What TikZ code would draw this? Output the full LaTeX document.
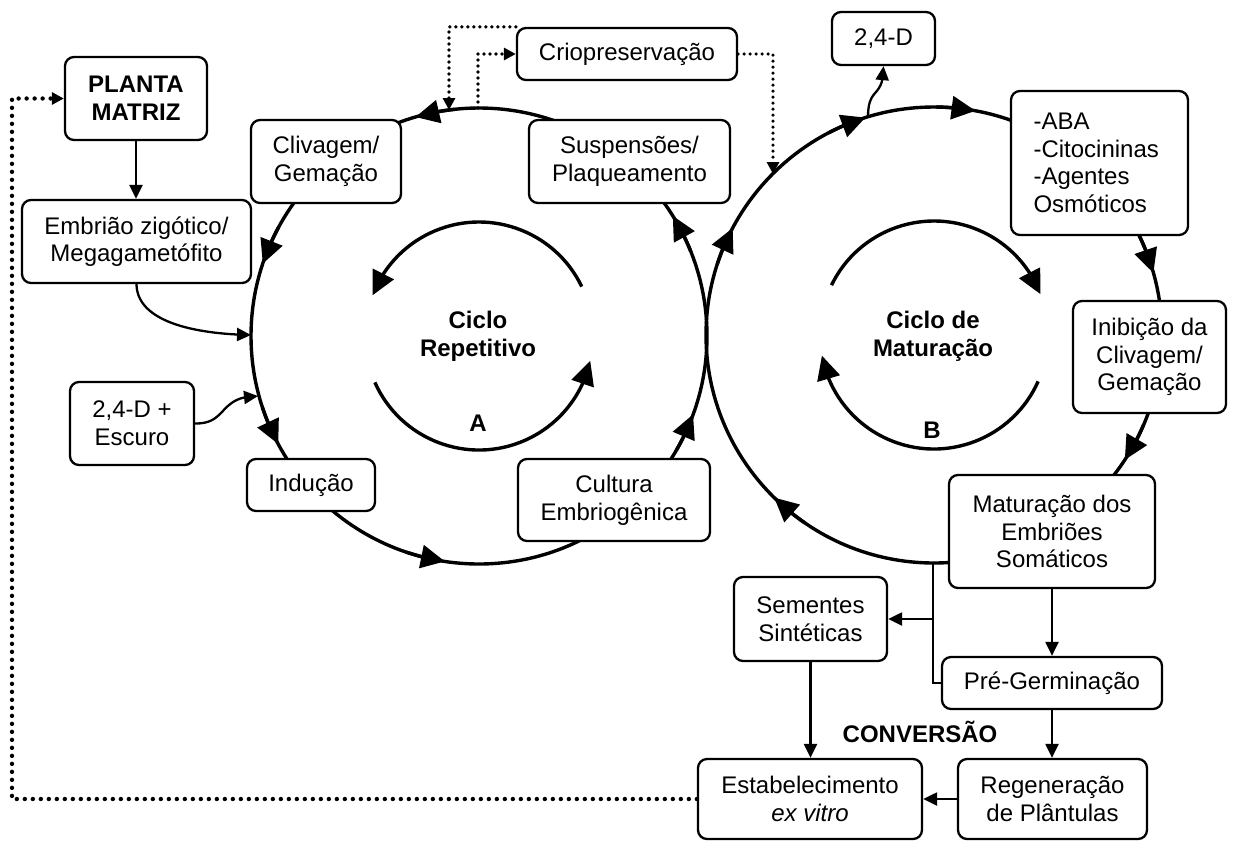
\documentclass[tikz,border=0pt]{standalone}
\usepackage{fontspec}
\setmainfont{Liberation Sans}
\usetikzlibrary{arrows.meta,calc,bending}
\begin{document}
\begin{tikzpicture}[x=0.5pt,y=0.5pt,
  box/.style={draw, line width=1.15pt, rounded corners=4.5pt, fill=white, align=center, inner sep=0pt, font=\fontsize{12}{13.8}\selectfont},
  circ/.style={line width=1.7pt},
  big/.style={circ, -{Triangle[length=12pt,width=11.5pt]}},
  conn/.style={line width=1.15pt, -{Triangle[length=7pt,width=6.5pt]}},
  dotl/.style={line width=2.2pt, line cap=round, dash pattern=on 0pt off 4pt, -{Triangle[length=6pt,width=6pt]}},
  dotc/.style={line width=1.8pt, line cap=round, dash pattern=on 0pt off 3pt, -{Triangle[length=6pt,width=6pt]}},
  lbl/.style={font=\bfseries\fontsize{12}{13.8}\selectfont, align=center}
]
\useasboundingbox (0,0) rectangle (1234,-841);
\fill[white] (0,0) rectangle (1234,-841);
\coordinate (cA) at (479,-336);
\coordinate (cB) at (934,-335);
\draw[circ] (cA) circle[radius=114pt];
\draw[circ] (cB) circle[radius=114pt];

% boxes
\node[box, minimum width=71pt, minimum height=41.5pt, font=\bfseries\fontsize{12}{13.8}\selectfont] (planta) at (136,-98.5) {PLANTA\\MATRIZ};
\node[box, minimum width=114.5pt, minimum height=41.5pt] (emb) at (136.5,-241.5) {Embrião zigótico/\\Megagametófito};
\node[box, minimum width=75pt, minimum height=41.5pt] (cliv) at (326,-161.5) {Clivagem/\\Gemação};
\node[box, minimum width=110pt, minimum height=26pt] (cryo) at (627,-54) {Criopreservação};
\node[box, minimum width=100.5pt, minimum height=41.5pt] (susp) at (629.5,-161.5) {Suspensões/\\Plaqueamento};
\node[box, minimum width=51.5pt, minimum height=26.5pt] (d24) at (883.5,-38.5) {2,4-D};
\node[box, minimum width=88.5pt, minimum height=72pt, align=left, text width=66pt] (aba) at (1099.5,-163) {-ABA\\-Citocininas\\-Agentes\\Osmóticos};
\node[box, minimum width=76.5pt, minimum height=56pt] (inib) at (1149.5,-357) {Inibição da\\Clivagem/\\Gemação};
\node[box, minimum width=64pt, minimum height=26pt] (ind) at (311,-485) {Indução};
\node[box, minimum width=62pt, minimum height=41.5pt] (esc) at (132,-423.5) {2,4-D +\\Escuro};
\node[box, minimum width=96pt, minimum height=41pt] (cult) at (614,-500) {Cultura\\Embriogênica};
\node[box, minimum width=103pt, minimum height=56.5pt] (mat) at (1052,-531.5) {Maturação dos\\Embriões\\Somáticos};
\node[box, minimum width=76.5pt, minimum height=42pt] (sem) at (810.5,-619) {Sementes\\Sintéticas};
\node[box, minimum width=110pt, minimum height=26pt] (pre) at (1052,-683) {Pré-Germinação};
\node[box, minimum width=112pt, minimum height=40pt] (est) at (810,-799) {Estabelecimento\\\textit{ex vitro}};
\node[box, minimum width=94.5pt, minimum height=40pt] (reg) at (1052.5,-799) {Regeneração\\de Plântulas};

% labels
\node[lbl] (cr) at (478,-336) {Ciclo\\Repetitivo};
\node[lbl] (la) at (478,-423) {A};
\node[lbl] (cm) at (933,-336) {Ciclo de\\Maturação};
\node[lbl] (lb) at (932,-430) {B};
\node[lbl] (conv) at (920,-732) {CONVERSÃO};

% arrowheads on outer circles
\foreach \t in {31.8,106.2,161.5,208.3,261.4,339.9}
  \draw[big] ($(cA)+({\t-10}:114pt)$) arc[start angle=\t-10, end angle=\t, radius=114pt];
\foreach \t in {225.5,152,107.5,79.5,15.8,-33.2}
  \draw[big] ($(cB)+({\t+10}:114pt)$) arc[start angle=\t+10, end angle=\t, radius=114pt];

% inner arcs
\draw[big] ($(cA)+(25.7:57pt)$) arc[start angle=25.7, end angle=159.1, radius=57pt];
\draw[big] ($(cA)+(204:57pt)$) arc[start angle=204, end angle=347.4, radius=57pt];
\draw[big] ($(cB)+(154.1:57pt)$) arc[start angle=154.1, end angle=21, radius=57pt];
\draw[big] ($(cB)+(336:57pt)$) arc[start angle=336, end angle=190.4, radius=57pt];

% connectors
\coordinate (eA) at (251,-335);
\coordinate (eE) at (258,-396);
\coordinate (sB) at (868,-117);
\coordinate (br) at (933,-563);
\draw[conn] (planta.south) -- (planta.south |- emb.north);
\draw[conn] (emb.south) .. controls (137,-322) and (195,-334) .. (eA);
\draw[conn] (esc.east) .. controls (228,-424) and (218,-396) .. (eE);
\draw[conn] (sB) .. controls (868,-85) and (883.5,-100) .. (d24.south);
\draw[conn] (mat.south) -- (pre.north);
\draw[conn] (pre.south) -- (pre.south |- reg.north);
\draw[conn] (sem.south) -- (sem.south |- est.north);
\draw[conn] (reg.west) -- (est.east);
\draw[line width=1.15pt] (br) |- (pre.west);
\draw[conn] (br |- sem.east) -- (sem.east);

% dotted connectors
\coordinate (cA1) at (449,-110);
\coordinate (cA2) at (478,-108);
\coordinate (cB1) at (773,-174);
\coordinate (lc) at (12,-98.5);
\draw[dotc] (cryo.north west) -| (cA1);
\draw[dotc] (cA2) |- (cryo.west);
\draw[dotc] (cryo.east) -| (cB1);
\draw[dotl] (est.west) -| (lc) -- (planta.west);
\end{tikzpicture}
\end{document}
